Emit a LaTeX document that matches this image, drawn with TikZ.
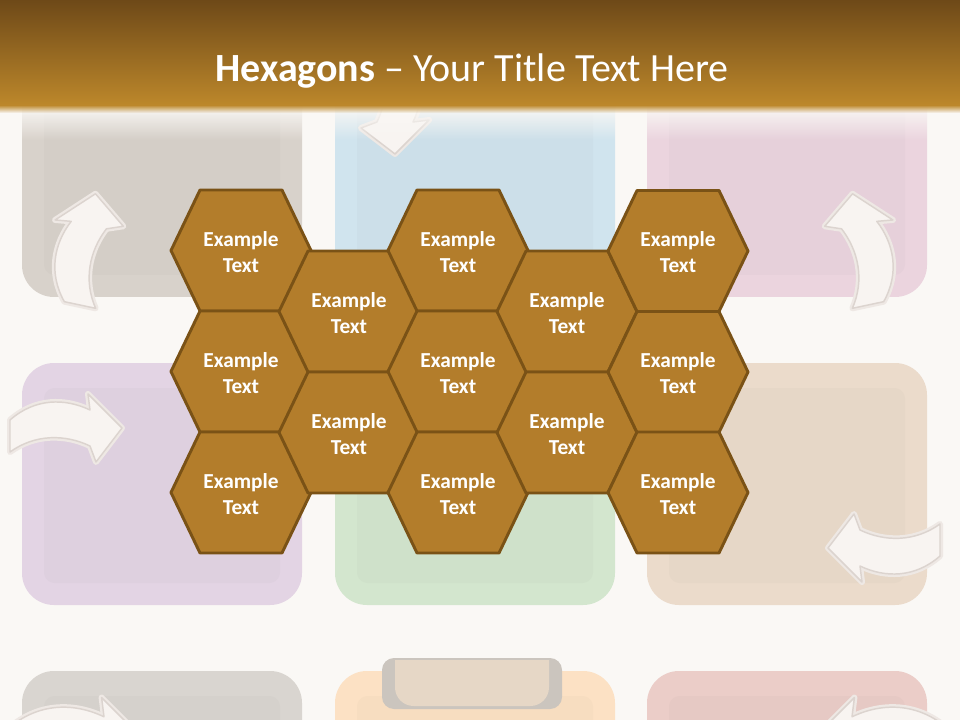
\documentclass[tikz,border=0pt]{standalone}
\usepackage{fontspec}
\setmainfont{Carlito}
\usetikzlibrary{fadings}
\definecolor{bg}{HTML}{FAF8F5}
\definecolor{bandtop}{HTML}{6E4918}
\definecolor{bandbot}{HTML}{BD882B}
\definecolor{hexfill}{HTML}{B37D2B}
\definecolor{hexline}{HTML}{7A5216}
\definecolor{arrowfill}{HTML}{F8F4F1}
\definecolor{arrowedge}{HTML}{EEE8E4}
\definecolor{arrowline}{HTML}{DCD4CF}
\definecolor{tA}{HTML}{D8D2CB}
\definecolor{tB}{HTML}{D0E4EE}
\definecolor{tC}{HTML}{EBD4DE}
\definecolor{tD}{HTML}{E3D4E4}
\definecolor{tE}{HTML}{D3E6CE}
\definecolor{tF}{HTML}{EBDBCB}
\definecolor{tG}{HTML}{D9D5D0}
\definecolor{tH}{HTML}{FCE1C4}
\definecolor{tI}{HTML}{EBCDC8}
\definecolor{tabedge}{HTML}{CBC5BE}
\definecolor{tabfill}{HTML}{E6D7C6}
\tikzfading[name=fadedown, top color=transparent!0, bottom color=transparent!100]
\tikzset{
  tile/.style={fill=#1, rounded corners=24},
  tileinner/.style={fill=#1!98!black, rounded corners=8},
  hexshape/.style={fill=hexfill, draw=hexline, line width=2.2pt, line join=round},
  hexlabel/.style={text=white, font=\bfseries\fontsize{16}{19.5}\selectfont, align=center, inner sep=0pt},
  arrowouter/.style={draw=arrowedge, line width=4.5pt, line join=round, fill=arrowfill},
  arrowinner/.style={draw=arrowline, line width=1.1pt, line join=round, fill=arrowfill},
  curvarrow/.pic={
    \path[arrowouter] (0,-16) .. controls (25,-38) and (55,-38) .. (80,-26) -- (78,-42) -- (112,-8) -- (86,26) -- (80,10) .. controls (55,-2) and (25,-2) .. (0,16) -- cycle;
    \path[arrowinner] (0,-16) .. controls (25,-38) and (55,-38) .. (80,-26) -- (78,-42) -- (112,-8) -- (86,26) -- (80,10) .. controls (55,-2) and (25,-2) .. (0,16) -- cycle;
  }
}
\newcommand\hexcell[3]{%
  \path[hexshape] (#2,#3) ++(-70,0) -- ++(29,-60.5) -- ++(82,0) -- ++(29,60.5) -- ++(-29,60.5) -- ++(-82,0) -- cycle;
  \node[hexlabel] (#1) at (#2,#3+1.5) {Example\\Text};
}
\begin{document}
\begin{tikzpicture}[x=0.75pt,y=-0.75pt]
\useasboundingbox (0,0) rectangle (960,720);
\fill[bg] (0,0) rectangle (960,720);
% background tiles
\foreach \c/\x in {A/22,B/335,C/647} {\fill[tile=t\c] (\x,55) rectangle ++(280,242); \fill[tileinner=t\c] (\x+22,80) rectangle ++(236,195);}
\foreach \c/\x in {D/22,E/335,F/647} {\fill[tile=t\c] (\x,363) rectangle ++(280,242); \fill[tileinner=t\c] (\x+22,388) rectangle ++(236,195);}
\foreach \c/\x in {G/22,H/335,I/647} {\fill[tile=t\c] (\x,671) rectangle ++(280,242); \fill[tileinner=t\c] (\x+22,696) rectangle ++(236,195);}
% tab on bottom middle tile
\fill[tabedge, rounded corners=9] (382,658) rectangle (562,709);
\fill[tabfill] (395,660) -- (549,660) [rounded corners=14] -- (549,706) -- (395,706) [sharp corners] -- cycle;
% arrows
\pic[rotate=78] at (80,305) {curvarrow};
\pic[xscale=-1, rotate=78] at (868,305) {curvarrow};
\pic[rotate=-90] at (387,42) {curvarrow};
\pic at (10,436) {curvarrow};
\pic[rotate=180] at (940,540) {curvarrow};
\pic[scale=1.2] at (8,748) {curvarrow};
\pic[xscale=-1.2, yscale=1.2] at (948,748) {curvarrow};
% title band
\fill[bg, path fading=fadedown] (0,106) rectangle (960,140);
\shade[top color=bandtop, bottom color=bandbot] (0,0) rectangle (960,106);
\fill[bandbot, path fading=fadedown] (0,105) rectangle (960,113);
\node[anchor=base, text=white, font=\fontsize{30}{36}\selectfont, inner sep=0pt] (title) at (472,82) {\textbf{Hexagons} – Your Title Text Here};
% hexagons
\hexcell{h11}{241}{250.5}
\hexcell{h12}{241}{371.5}
\hexcell{h13}{241}{492.5}
\hexcell{h21}{349}{311.5}
\hexcell{h22}{349}{432.5}
\hexcell{h31}{458}{250.5}
\hexcell{h32}{458}{371.5}
\hexcell{h33}{458}{492.5}
\hexcell{h41}{567}{311.5}
\hexcell{h42}{567}{432.5}
\hexcell{h51}{678}{251}
\hexcell{h52}{678}{372}
\hexcell{h53}{678}{492.5}
\end{tikzpicture}
\end{document}
